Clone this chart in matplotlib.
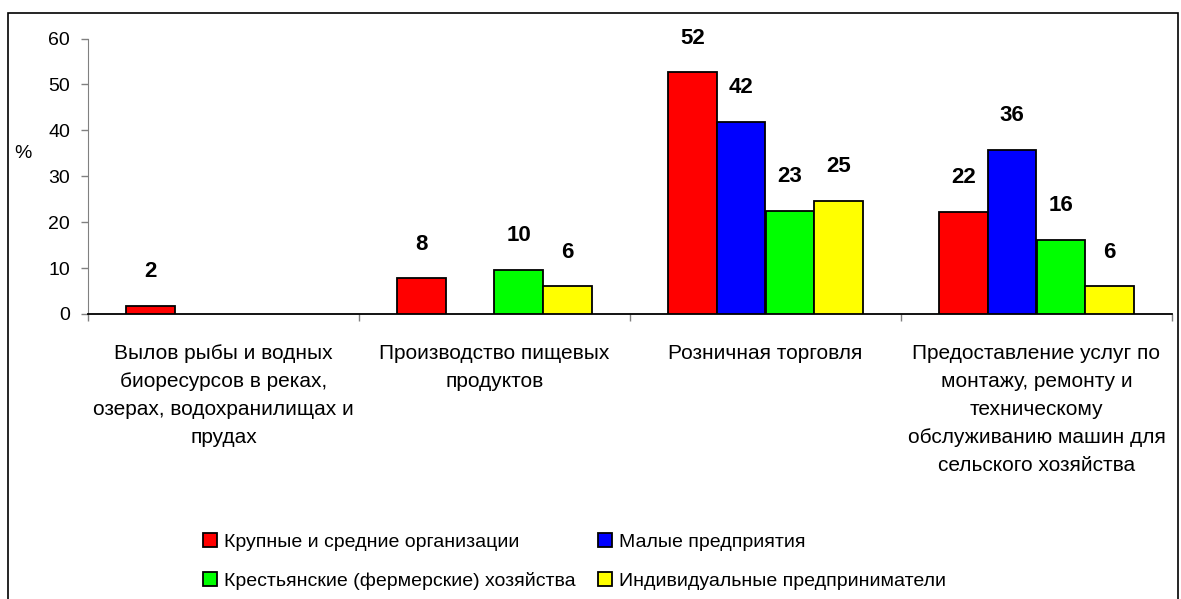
import numpy as np
import matplotlib
matplotlib.use("Agg")
import matplotlib.pyplot as plt
from matplotlib.patches import Rectangle, Patch

plt.rcParams['font.family'] = ['Liberation Sans', 'DejaVu Sans']

# данные
categories = [
    "Вылов рыбы и водных\nбиоресурсов в реках,\nозерах, водохранилищах и\nпрудах",
    "Производство пищевых\nпродуктов",
    "Розничная торговля",
    "Предоставление услуг по\nмонтажу, ремонту и\nтехническому\nобслуживанию машин для\nсельского хозяйства",
]
series_names = [
    "Крупные и средние организации",
    "Малые предприятия",
    "Крестьянские (фермерские) хозяйства",
    "Индивидуальные предприниматели",
]
krupnye = [1.8, 7.8, 52.6, 22.2]
malye = [np.nan, np.nan, 41.8, 35.7]
fermery = [np.nan, 9.6, 22.5, 16.1]
ip = [np.nan, 6.0, 24.7, 6.0]
# подписи значений, как на рисунке
krupnye_lbl = ["2", "8", "52", "22"]
malye_lbl = ["", "", "42", "36"]
fermery_lbl = ["", "10", "23", "16"]
ip_lbl = ["", "6", "25", "6"]
colors = ["#FF0000", "#0000FF", "#00FF00", "#FFFF00"]

W, H = 1181, 599
fig = plt.figure(figsize=(W / 100, H / 100), dpi=100)
ax = fig.add_axes([88 / W, 1 - 314 / H, (1172 - 88) / W, (314 - 38.5) / H])

x = np.arange(len(categories))
bw = 0.179
all_vals = [krupnye, malye, fermery, ip]
all_lbls = [krupnye_lbl, malye_lbl, fermery_lbl, ip_lbl]
for k, (vals, lbls) in enumerate(zip(all_vals, all_lbls)):
    pos = x + (k - 1.5) * bw
    ax.bar(pos, vals, bw, color=colors[k], edgecolor="black", linewidth=1.3, zorder=3)
    for p, v, t in zip(pos, vals, lbls):
        if t:
            ax.annotate(t, (p, v), xytext=(0, 17), textcoords="offset points",
                        ha="center", va="bottom", fontsize=16, fontweight="bold")

ax.set_xlim(-0.5, 3.5)
ax.set_ylim(0, 60)
ax.set_yticks(range(0, 61, 10))
ax.tick_params(axis="y", length=5, width=1, color="#808080", pad=8, labelsize=14)
ax.set_xticks(np.arange(-0.5, 4, 1))
ax.set_xticklabels([])
ax.tick_params(axis="x", length=5, width=1, color="#808080")
for s in ["top", "right"]:
    ax.spines[s].set_visible(False)
ax.spines["left"].set_color("#808080")
ax.spines["bottom"].set_color("black")
ax.spines["bottom"].set_linewidth(1.3)

for i, c in enumerate(categories):
    ax.text(i, -0.11, c, transform=ax.get_xaxis_transform(), ha="center", va="top",
            fontsize=15, linespacing=1.6)

fig.text(14 / W, 1 - 153 / H, "%", fontsize=14, va="center", ha="left")

# порядок для двух колонок: красный, зелёный | синий, жёлтый
order = [0, 2, 1, 3]
handles = [Patch(facecolor=colors[k], edgecolor="black", linewidth=1.3) for k in order]
fig.legend(handles, [series_names[k] for k in order], ncol=2, loc="upper left",
           bbox_to_anchor=(203 / W, 1 - 533 / H), frameon=False, fontsize=14,
           handlelength=0.72, handleheight=0.72, handletextpad=0.35,
           labelspacing=1.1, columnspacing=1.15, borderpad=0, borderaxespad=0)

# рамка вокруг всей диаграммы
fig.patches.append(Rectangle((8 / W, -0.05), (1178 - 8) / W, 1 - 12.5 / H + 0.05,
                             transform=fig.transFigure, fill=False,
                             edgecolor="black", linewidth=1.2))

fig.savefig("out.png", dpi=100)
